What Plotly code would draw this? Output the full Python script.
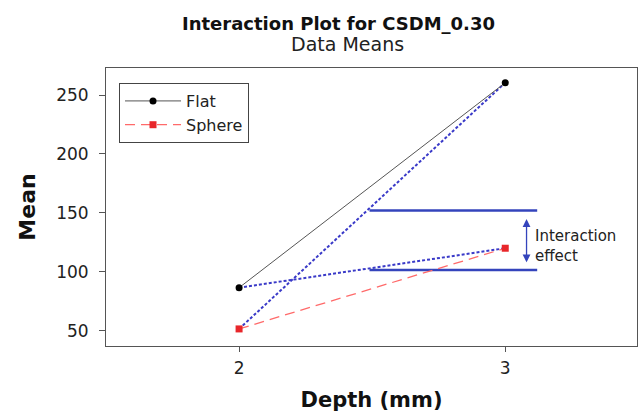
import plotly.graph_objects as go

depth = [2, 3]
flat_means = [86.5, 260.5]
sphere_means = [51.5, 120.0]
# interaction guide lines (blue dashed)
guide_a = [86.5, 120.0]   # flat start, sphere slope
guide_b = [51.5, 260.5]   # sphere start, flat slope
upper_level = 152
lower_level = 101.5
level_x = [2.49, 3.12]
arrow_x = 3.08
arrow_y = [146, 108]

fig = go.Figure()
fig.add_trace(go.Scatter(x=depth, y=guide_a, mode="lines", showlegend=False,
                         line=dict(color="#3a3ac8", width=2, dash="3px,2px")))
fig.add_trace(go.Scatter(x=depth, y=guide_b, mode="lines", showlegend=False,
                         line=dict(color="#3a3ac8", width=2, dash="3px,2px")))
fig.add_trace(go.Scatter(x=level_x, y=[upper_level]*2, mode="lines", showlegend=False,
                         line=dict(color="#3444bc", width=2.5)))
fig.add_trace(go.Scatter(x=level_x, y=[lower_level]*2, mode="lines", showlegend=False,
                         line=dict(color="#3444bc", width=2.5)))
fig.add_trace(go.Scatter(x=depth, y=flat_means, mode="lines+markers", name="Flat",
                         line=dict(color="#555555", width=1),
                         marker=dict(symbol="circle", size=7, color="black")))
fig.add_trace(go.Scatter(x=depth, y=sphere_means, mode="lines+markers", name="Sphere",
                         line=dict(color="#ff6a6a", width=1.3, dash="10px,6px"),
                         marker=dict(symbol="square", size=7, color="#e8262a")))

fig.add_annotation(x=arrow_x, y=arrow_y[1], ax=arrow_x, ay=arrow_y[0],
                   xref="x", yref="y", axref="x", ayref="y", text="",
                   showarrow=True, arrowhead=2, arrowside="end+start",
                   arrowsize=1.2, arrowwidth=1.3, arrowcolor="#3444bc")
fig.add_annotation(x=3.103, y=122, xref="x", yref="y", text="Interaction<br>effect",
                   showarrow=False, xanchor="left", align="left",
                   font=dict(family="DejaVu Sans", size=15, color="#222"))

fig.add_annotation(x=0.437, y=1.0, xref="paper", yref="paper", yshift=45,
                   text="<b>Interaction Plot for CSDM_0.30</b>", showarrow=False,
                   font=dict(family="DejaVu Sans", size=18, color="#111"), yanchor="middle")
fig.add_annotation(x=0.454, y=1.0, xref="paper", yref="paper", yshift=24,
                   text="Data Means", showarrow=False,
                   font=dict(family="DejaVu Sans", size=19, color="#222"), yanchor="middle")

fig.update_layout(
    width=639, height=412,
    margin=dict(l=106, r=2, t=68, b=66),
    plot_bgcolor="white", paper_bgcolor="white",
    font=dict(family="DejaVu Sans", color="#222"),
    legend=dict(x=0.0245, y=0.946, xanchor="left", yanchor="top",
                bordercolor="#444", borderwidth=1, bgcolor="white",
                itemwidth=56,
                font=dict(size=16, color="#222"), tracegroupgap=0),
    xaxis=dict(range=[1.5, 3.495], tickvals=depth, ticktext=["2", "3"],
               showgrid=False, zeroline=False, showline=True, linecolor="#555",
               mirror=True, ticks="outside", ticklen=5, tickcolor="#555",
               tickfont=dict(size=17), ticklabelstandoff=2,
               title=dict(text="<b>Depth (mm)</b>", font=dict(size=21, color="#111"), standoff=14)),
    yaxis=dict(range=[37, 273], tickvals=[50, 100, 150, 200, 250],
               showgrid=False, zeroline=False, showline=True, linecolor="#555",
               mirror=True, ticks="outside", ticklen=6, tickcolor="#555",
               tickfont=dict(size=17), ticklabelstandoff=7,
               title=dict(text="<b>Mean</b>", font=dict(size=22, color="#111"), standoff=14)),
)

fig.write_html("out.html")
